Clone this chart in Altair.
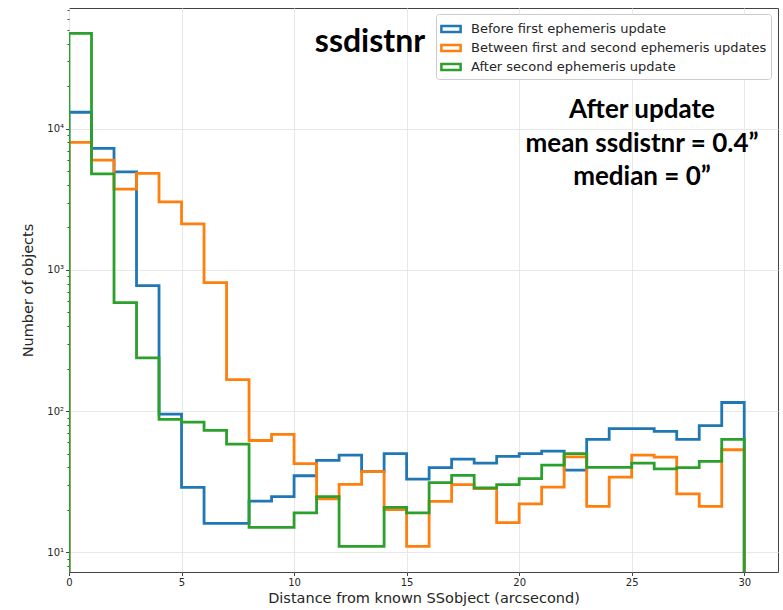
import altair as alt
import pandas as pd

# ---------------- data ----------------
bin_edges = list(range(31))  # 0..30 arcsec, 1" bins
series_names = [
    "Before first ephemeris update",
    "Between first and second ephemeris updates",
    "After second ephemeris update",
]
before_first = [13100, 7260, 4960, 775, 95, 28.8, 16.0, 16.0, 23.0, 24.8,
                34.8, 44.7, 48.7, 37.2, 49.9, 32.9, 39.7, 45.7, 42.8, 47.7,
                49.9, 52.0, 38.2, 63.0, 75.0, 75.0, 71.8, 63.0, 78.8, 115]
between_updates = [8010, 6000, 3735, 4830, 3035, 2120, 814, 167, 61.9, 68.4,
                   42.4, 23.9, 30.2, 37.2, 20.0, 11.0, 22.9, 30.1, 28.2, 16.2,
                   22.0, 28.9, 47.4, 21.1, 34.0, 48.7, 47.2, 25.9, 21.1, 53.2]
after_second = [47500, 4800, 587, 238, 87.3, 83.6, 72.9, 58.3, 15.0, 15.0,
                19.0, 24.8, 11.0, 11.0, 20.8, 19.0, 31.1, 35.0, 28.6, 30.1,
                33.2, 41.4, 49.9, 39.9, 39.9, 42.8, 39.0, 39.7, 44.0, 63.0]
colors = ["#1f77b4", "#ff7f0e", "#2ca02c"]

major_ticks = [10, 100, 1000, 10000]
title_text = "ssdistnr"
note_lines = ["After update", "mean ssdistnr = 0.4\u201d", "median = 0\u201d"]

# step-outline vertices (histtype='step'), baseline below the log domain
BASE = 1.0
rows = []
for name, counts in zip(series_names, [before_first, between_updates, after_second]):
    pts = [(bin_edges[0], BASE)]
    for i, c in enumerate(counts):
        pts.append((bin_edges[i], c))
        pts.append((bin_edges[i + 1], c))
    pts.append((bin_edges[-1], BASE))
    for k, (x, y) in enumerate(pts):
        rows.append({"series": name, "x": x, "count": y, "order": k})
df = pd.DataFrame(rows)

YMIN, YMAX = 7.24, 71800
minor_ticks = [m * 10 ** k for k in range(0, 5) for m in range(2, 10)
               if YMIN <= m * 10 ** k <= YMAX]
all_ticks = sorted(major_ticks + minor_ticks)

FONT = "DejaVu Sans"
TXT = "#262626"

x_enc = alt.X(
    "x:Q",
    scale=alt.Scale(domain=[0, 31.5], nice=False, zero=False),
    axis=alt.Axis(
        values=[0, 5, 10, 15, 20, 25, 30],
        title="Distance from known SSobject (arcsecond)",
        titleFont=FONT, titleFontSize=14.5, titleFontWeight="normal", titleColor=TXT,
        titlePadding=4,
        labelFont=FONT, labelFontSize=10, labelColor=TXT, labelFlush=False,
        tickSize=3.5, tickColor="#444", domain=False,
        gridColor="#e8e8e8", gridWidth=1,
    ),
)

y_enc = alt.Y(
    "count:Q",
    scale=alt.Scale(type="log", domain=[YMIN, YMAX], nice=False),
    axis=alt.Axis(
        values=all_ticks,
        title="Number of objects",
        titleFont=FONT, titleFontSize=14.5, titleFontWeight="normal", titleColor=TXT,
        titlePadding=11,
        labelFont=FONT, labelFontSize=10, labelColor=TXT, labelOverlap=False,
        labelExpr="datum.value == 10 ? '10\u00b9' : datum.value == 100 ? '10\u00b2' : "
                  "datum.value == 1000 ? '10\u00b3' : datum.value == 10000 ? '10\u2074' : ''",
        tickSize={"condition": {"test": "indexof([10,100,1000,10000], datum.value) >= 0", "value": 3.5}, "value": 2},
        tickColor="#444", domain=False,
        gridColor="#e8e8e8", gridWidth=1,
        gridOpacity={"condition": {"test": "indexof([10,100,1000,10000], datum.value) >= 0", "value": 1}, "value": 0},
    ),
)

color_enc = alt.Color(
    "series:N",
    scale=alt.Scale(domain=series_names, range=colors),
    legend=alt.Legend(
        title=None, orient="none", legendX=367, legendY=6,
        symbolType="M-1,-0.3L1,-0.3L1,0.3L-1,0.3Z", symbolSize=370,
        symbolStrokeWidth=2.5, symbolFillColor="white",
        labelFont=FONT, labelFontSize=13, labelColor=TXT, labelOffset=9,
        labelLimit=0,
        fillColor="white", strokeColor="#cccccc", cornerRadius=3, padding=4,
        rowPadding=0,
    ),
)

layers = []
for name in series_names:
    layers.append(
        alt.Chart(df)
        .transform_filter(alt.datum.series == name)
        .mark_line(strokeWidth=2.8, clip=True)
        .encode(x=x_enc, y=y_enc, order="order:Q", color=color_enc)
    )

title_layer = alt.Chart(pd.DataFrame({"t": [title_text]})).mark_text(
    font="Lato", fontSize=32, fontWeight="bold", color="black", align="center", baseline="alphabetic"
).encode(text="t:N", x=alt.value(301), y=alt.value(44))
layers.append(title_layer)

for line, ypix in zip(note_lines, [110, 143.5, 177]):
    layers.append(
        alt.Chart(pd.DataFrame({"t": [line]})).mark_text(
            font="Lato", fontSize=26, fontWeight="bold", color="black", align="center", baseline="alphabetic"
        ).encode(text="t:N", x=alt.value(573), y=alt.value(ypix))
    )

chart = alt.layer(*layers).properties(
    width=709, height=564,
    autosize=alt.AutoSizeParams(type="none"),
    padding={"left": 69, "top": 8, "right": 5, "bottom": 38},
    background="white",
).configure_view(stroke="#444", strokeWidth=1)

chart.save("out.html", embed_options={"renderer": "svg", "actions": False})
